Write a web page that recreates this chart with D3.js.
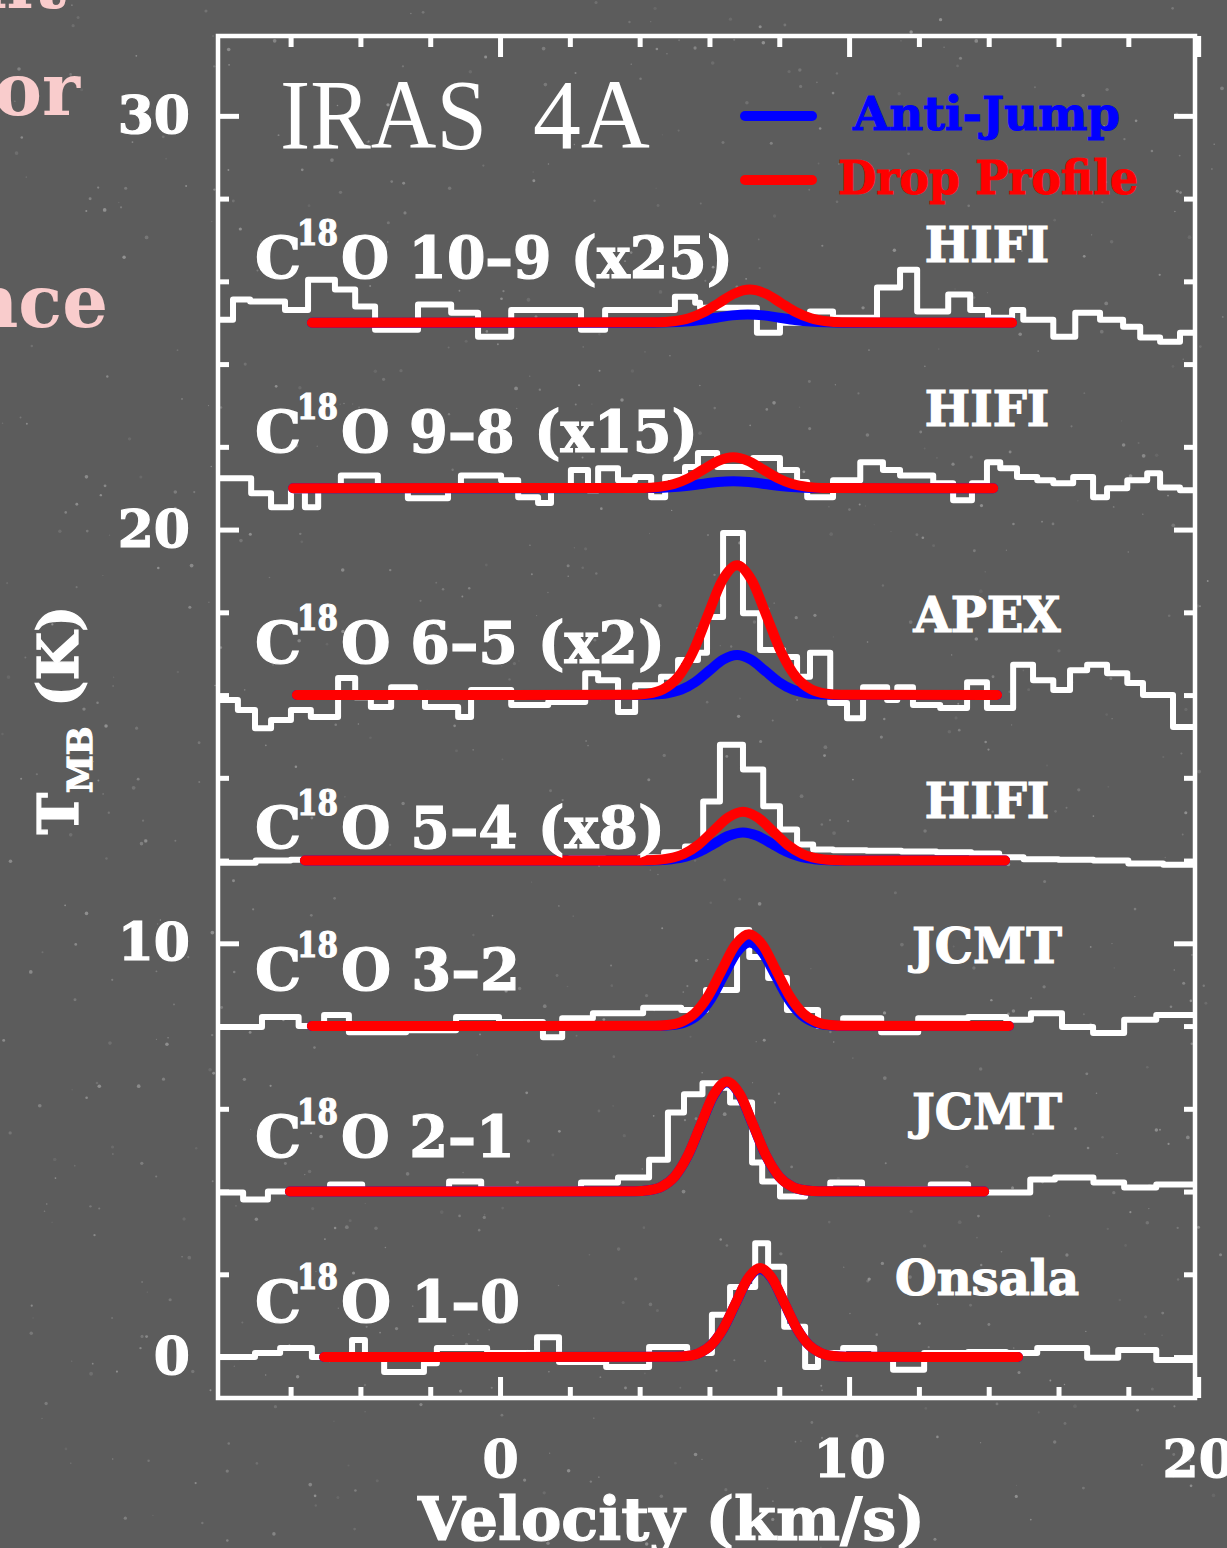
<!DOCTYPE html>
<html><head><meta charset="utf-8">
<script src="https://cdn.jsdelivr.net/npm/d3@7"></script>
<style>
html,body{margin:0;padding:0;background:#5c5c5c;}
svg{display:block;}
</style>
</head><body>
<svg id="chart" width="1227" height="1548"></svg>
<script>
// ---------------- DATA ----------------
const velocityDomain = [-8.08, 19.91];
const tempDomain = [-0.99, 31.93];
const xMajorTicks = [0, 10, 20];
const xMinorTicks = [-6, -4, -2, 2, 4, 6, 8, 12, 14, 16, 18];
const yMajorTicks = [0, 10, 20, 30];
const yMinorTicks = [2, 4, 6, 8, 12, 14, 16, 18, 22, 24, 26, 28];

const transitions = ["10–9", "9–8", "6–5", "5–4", "3–2", "2–1", "1–0"];
const scaleFactors = ["(x25)", "(x15)", "(x2)", "(x8)", "", "", ""];
const telescopes = ["HIFI", "HIFI", "APEX", "HIFI", "JCMT", "JCMT", "Onsala"];
const offsets = [25, 21, 16, 12, 8, 4, 0];
const legendNames = ["Anti-Jump", "Drop Profile"];

// observed spectra: [channel start velocity (km/s), T_MB above offset (K)]
const obs10_9 = [[-8.08,0.07],[-7.65,0.56],[-7.16,0.51],[-6.16,0.31],[-5.50,1.04],[-4.73,0.80],[-4.15,0.39],[-3.58,-0.17],[-2.35,0.44],[-1.40,0.24],[-0.63,-0.34],[0.32,0.31],[2.32,-0.17],[3.01,0.31],[5.01,0.63],[5.59,0.48],[5.73,0.36],[7.36,-0.24],[8.02,0],[8.88,0.27],[9.54,0.12],[10.80,0.85],[11.46,1.28],[11.95,0.27],[12.84,0.68],[13.47,0.31],[13.98,0.12],[14.67,0.31],[14.99,0.07],[15.85,-0.34],[16.48,0.24],[17.19,0.07],[17.85,-0.10],[18.34,-0.36],[18.91,-0.46],[19.48,-0.24]];
const obs9_8 = [[-8.08,0.24],[-7.13,-0.12],[-6.56,-0.46],[-5.99,-0.05],[-5.59,-0.46],[-5.21,0],[-4.56,0.31],[-3.50,0],[-2.64,-0.24],[-1.49,0],[-1.12,0.31],[0.03,0.19],[0.52,-0.22],[1.09,-0.36],[1.46,0],[2.03,0.44],[2.52,-0.05],[2.81,0.48],[3.38,0.19],[3.87,0.27],[4.33,-0.22],[4.73,0.27],[5.30,0.51],[5.67,0.85],[6.22,0.51],[7.25,0.73],[8.02,0.44],[8.51,0.15],[8.80,-0.22],[9.54,0.19],[10.32,0.63],[10.97,0.44],[11.46,0.31],[12.41,0.12],[12.98,-0.29],[13.52,0.12],[13.95,0.63],[14.33,0.48],[14.81,0.27],[15.39,0.19],[15.85,0.12],[16.42,0.27],[16.99,-0.22],[17.39,0],[17.97,0.19],[18.54,0.36],[18.91,0.02],[19.48,-0.05]];
const obs6_5 = [[-8.08,-0.12],[-7.51,-0.36],[-7.02,-0.80],[-6.56,-0.60],[-5.99,-0.36],[-5.42,-0.53],[-4.64,0.41],[-4.15,-0.05],[-3.70,-0.29],[-3.12,0.19],[-2.44,0.05],[-2.15,-0.29],[-1.20,-0.53],[-0.83,0.12],[0.32,-0.24],[1.38,-0.17],[2.44,0.53],[2.81,0.36],[3.38,-0.41],[3.87,0.24],[4.61,0.44],[5.10,0.85],[5.67,1.02],[5.93,1.89],[6.39,3.92],[6.96,1.98],[7.45,1.09],[8.11,0.92],[8.51,0.44],[8.88,1.02],[9.46,-0.19],[9.94,-0.56],[10.40,0.19],[11.09,-0.12],[11.38,0.19],[11.83,-0.24],[12.61,-0.31],[13.38,0.31],[13.95,-0.31],[14.70,0.73],[15.27,0.36],[15.85,0.12],[16.33,0.60],[16.82,0.73],[17.39,0.53],[17.97,0.29],[18.42,0],[19.28,-0.77]];
const obs5_4 = [[-8.08,-0.05],[-7.0,0.0],[-6.0,0.02],[-5.0,0.0],[-4.0,0.03],[-3.0,0.01],[-2.0,0.02],[-1.0,0.04],[0.0,0.02],[1.0,0.03],[2.0,0.05],[3.0,0.04],[4.0,0.08],[4.7,0.2],[5.30,0.34],[5.82,1.43],[6.30,2.80],[6.96,2.20],[7.54,1.31],[8.02,0.75],[8.51,0.39],[8.97,0.27],[9.54,0.25],[10.5,0.24],[11.5,0.22],[12.5,0.2],[13.5,0.17],[14.3,0.08],[15.0,0.03],[16.0,0.02],[17.0,0.0],[18.0,-0.07],[19.0,-0.1]];
const obs3_2 = [[-8.08,-0.02],[-6.82,0.22],[-5.77,0],[-5.04,0.27],[-4.33,-0.15],[-2.69,-0.10],[-1.26,0.22],[-0.03,0.10],[1.23,-0.27],[1.78,0.19],[2.66,0.31],[4.10,0.44],[5.19,0.39],[5.90,0.87],[6.79,2.32],[7.14,1.67],[7.68,1.16],[8.22,0.39],[9.11,0],[9.83,0.19],[10.92,-0.15],[11.98,0.19],[13.41,0.22],[14.50,0.15],[15.21,0.31],[16.10,-0.02],[16.99,-0.17],[17.88,0.15],[18.80,0.27]];
const obs2_1 = [[-8.08,-0.02],[-7.36,-0.19],[-6.65,0],[-4.87,0.17],[-3.95,0],[-1.46,0.24],[-0.54,0.05],[2.32,0.22],[3.38,0.34],[4.27,0.77],[4.81,1.91],[5.27,2.35],[5.80,2.62],[6.25,2.51],[6.59,2.15],[7.22,0.70],[7.51,0.24],[8.02,-0.12],[8.74,0],[9.46,0.22],[10.37,0.05],[12.34,0.17],[13.41,-0.02],[15.19,0.29],[15.90,0.34],[17.0,0.22],[17.88,0.10],[18.8,0.17]];
const obs1_0 = [[-8.08,0],[-7.02,0.10],[-6.30,0.22],[-5.39,0],[-4.24,0.41],[-3.87,0.05],[-3.32,-0.36],[-2.18,-0.15],[-1.81,0.22],[-0.37,0.10],[1.06,0.48],[1.69,-0.12],[3.04,-0.24],[4.27,0.24],[5.36,0.10],[6.07,1.02],[6.59,1.69],[7.31,2.75],[7.68,2.18],[8.14,0.73],[8.74,-0.24],[9.11,0.1],[9.83,0.22],[10.72,0],[11.26,-0.31],[12.15,0.10],[13.41,0.12],[14.50,0.1],[15.39,0.22],[16.82,-0.02],[17.71,0.17],[18.80,-0.07]];

// model profiles: [velocity, T_MB above offset]
const anti10_9 = [[-5.39,0],[4.40,0.002],[4.85,0.009],[5.30,0.027],[5.75,0.065],[6.20,0.121],[6.65,0.177],[7.10,0.20],[7.55,0.177],[8.00,0.121],[8.45,0.065],[8.90,0.027],[9.35,0.009],[9.80,0.002],[14.67,0]];
const drop10_9 = [[-5.39,0],[4.535,0.009],[4.97,0.035],[5.41,0.108],[5.85,0.26],[6.285,0.485],[6.72,0.706],[7.16,0.80],[7.60,0.706],[8.035,0.485],[8.47,0.26],[8.91,0.108],[9.35,0.035],[9.785,0.009],[14.67,0]];
const anti9_8 = [[-5.93,0],[3.98,0.002],[4.43,0.007],[4.88,0.023],[5.33,0.055],[5.78,0.103],[6.23,0.150],[6.68,0.17],[7.13,0.150],[7.58,0.103],[8.03,0.055],[8.48,0.023],[8.93,0.007],[9.38,0.002],[14.13,0]];
const drop9_8 = [[-5.93,0],[4.13,0.008],[4.555,0.033],[4.98,0.101],[5.405,0.244],[5.83,0.455],[6.255,0.662],[6.68,0.75],[7.105,0.662],[7.53,0.455],[7.955,0.244],[8.38,0.101],[8.805,0.033],[9.23,0.008],[14.13,0]];
const anti6_5 = [[-5.82,0],[3.99,0.002],[4.39,0.011],[4.79,0.043],[5.19,0.131],[5.59,0.315],[5.99,0.588],[6.39,0.856],[6.79,0.97],[7.19,0.856],[7.59,0.588],[7.99,0.315],[8.39,0.131],[8.79,0.043],[9.19,0.011],[9.59,0.002],[14.24,0]];
const drop6_5 = [[-5.82,0],[3.815,0.007],[4.24,0.035],[4.665,0.138],[5.09,0.425],[5.515,1.020],[5.94,1.904],[6.365,2.771],[6.79,3.14],[7.215,2.771],[7.64,1.904],[8.065,1.020],[8.49,0.425],[8.915,0.138],[9.34,0.035],[9.765,0.007],[14.24,0]];
const anti5_4 = [[-5.59,0],[4.09,0.001],[4.50,0.008],[4.91,0.030],[5.32,0.092],[5.73,0.221],[6.14,0.412],[6.55,0.600],[6.96,0.68],[7.37,0.600],[7.78,0.412],[8.19,0.221],[8.60,0.092],[9.01,0.030],[9.42,0.008],[9.83,0.001],[14.47,0]];
const drop5_4 = [[-5.59,0],[3.985,0.003],[4.41,0.013],[4.835,0.052],[5.26,0.160],[5.685,0.383],[6.11,0.716],[6.535,1.041],[6.96,1.18],[7.385,1.041],[7.81,0.716],[8.235,0.383],[8.66,0.160],[9.085,0.052],[9.51,0.013],[9.935,0.003],[14.47,0]];
const anti3_2 = [[-5.39,0],[4.56,0.004],[4.93,0.022],[5.30,0.089],[5.67,0.273],[6.04,0.656],[6.41,1.225],[6.78,1.783],[7.15,2.02],[7.52,1.783],[7.89,1.225],[8.26,0.656],[8.63,0.273],[9.00,0.089],[9.37,0.022],[9.74,0.004],[14.58,0]];
const drop3_2 = [[-5.39,0],[4.40,0.005],[4.79,0.025],[5.18,0.097],[5.57,0.300],[5.96,0.721],[6.35,1.346],[6.74,1.959],[7.13,2.22],[7.52,1.959],[7.91,1.346],[8.30,0.721],[8.69,0.300],[9.08,0.097],[9.47,0.025],[9.86,0.005],[14.58,0]];
const anti2_1 = [[-6.02,0],[3.875,0.006],[4.25,0.030],[4.625,0.116],[5.00,0.357],[5.375,0.857],[5.75,1.601],[6.125,2.330],[6.50,2.64],[6.875,2.330],[7.25,1.601],[7.625,0.857],[8.00,0.357],[8.375,0.116],[8.75,0.030],[9.125,0.006],[13.87,0]];
const drop2_1 = [[-6.02,0],[3.875,0.006],[4.25,0.030],[4.625,0.117],[5.00,0.360],[5.375,0.864],[5.75,1.613],[6.125,2.347],[6.50,2.66],[6.875,2.347],[7.25,1.613],[7.625,0.864],[8.00,0.360],[8.375,0.117],[8.75,0.030],[9.125,0.006],[13.87,0]];
const anti1_0 = [[-5.04,0],[5.00,0.005],[5.35,0.024],[5.70,0.093],[6.05,0.289],[6.40,0.693],[6.75,1.294],[7.10,1.883],[7.45,2.13],[7.80,1.883],[8.15,1.294],[8.50,0.693],[8.85,0.289],[9.20,0.093],[9.55,0.024],[9.90,0.005],[14.84,0]];
const drop1_0 = [[-5.04,0],[5.00,0.005],[5.35,0.024],[5.70,0.094],[6.05,0.291],[6.40,0.698],[6.75,1.304],[7.10,1.897],[7.45,2.15],[7.80,1.897],[8.15,1.304],[8.50,0.698],[8.85,0.291],[9.20,0.094],[9.55,0.024],[9.90,0.005],[14.84,0]];

const observed = [obs10_9, obs9_8, obs6_5, obs5_4, obs3_2, obs2_1, obs1_0];
const antiJump = [anti10_9, anti9_8, anti6_5, anti5_4, anti3_2, anti2_1, anti1_0];
const dropProfile = [drop10_9, drop9_8, drop6_5, drop5_4, drop3_2, drop2_1, drop1_0];

// ---------------- LAYOUT / STYLE ----------------
const W = 1227, H = 1548;
const plot = {left: 218, right: 1195, top: 36, bottom: 1398};
const labelFont = "'DejaVu Serif', serif";
const white = "#ffffff";
const blue = "#0000ff";
const red = "#ff0000";
const bg = "#5c5c5c";
const labelBaselineShift = [1.08, 0.88, 0.78, 0.30, 0.87, 0.83, 0.85]; // K above offset
const labelRestWidth = [393, 358, 325, 325, 180, 175, 180];
const scopeBaselinePx = [262, 426, 632, 818, 963, 1129, 1295];

const svg = d3.select("#chart");
svg.append("rect").attr("width", W).attr("height", H).attr("fill", bg);

// subtle star speckles (deterministic decoration)
(function(){
  let s = 12345;
  const rnd = () => { s = (s * 1103515245 + 12345) % 2147483648; return s / 2147483648; };
  const g = svg.append("g");
  for (let i = 0; i < 900; i++) {
    const px = rnd() * W, py = rnd() * H, r = 0.6 + rnd() * 1.3, o = 0.08 + rnd() * 0.3;
    g.append("circle").attr("cx", px).attr("cy", py).attr("r", r).attr("fill", "#e8e8e8").attr("opacity", o);
  }
})();

// pink slide text fragments at left (background slide)
const pink = "#f9cccc";
svg.append("text").attr("x", 80).attr("y", 115).attr("text-anchor", "end")
  .attr("font-family", labelFont).attr("font-weight", "bold").attr("font-size", 72).attr("fill", pink).text("Factor");
svg.append("text").attr("x", 108).attr("y", 327).attr("text-anchor", "end")
  .attr("font-family", labelFont).attr("font-weight", "bold").attr("font-size", 72).attr("fill", pink).text("Abundance");
svg.append("text").attr("x", 66).attr("y", 8).attr("text-anchor", "end")
  .attr("font-family", labelFont).attr("font-weight", "bold").attr("font-size", 72).attr("fill", pink).text("ent");

const x = d3.scaleLinear().domain(velocityDomain).range([plot.left, plot.right]);
const y = d3.scaleLinear().domain(tempDomain).range([plot.bottom, plot.top]);

svg.append("defs").append("clipPath").attr("id", "clip")
  .append("rect").attr("x", plot.left).attr("y", plot.top)
  .attr("width", plot.right - plot.left).attr("height", plot.bottom - plot.top);

function styleAxis(g) {
  g.select(".domain").remove();
  g.selectAll(".tick line").attr("stroke", white).attr("stroke-width", 5);
  g.selectAll(".tick text").attr("fill", white).attr("font-family", labelFont)
    .attr("font-weight", "bold").attr("font-size", 52)
    .attr("stroke", white).attr("stroke-width", 1.2);
}
const noLabel = () => "";
svg.append("g").attr("transform", `translate(0,${plot.bottom})`)
  .call(d3.axisBottom(x).tickValues(xMinorTicks).tickSize(-11).tickFormat(noLabel)).call(styleAxis);
svg.append("g").attr("transform", `translate(0,${plot.bottom})`)
  .call(d3.axisBottom(x).tickValues(xMajorTicks).tickSize(-21).tickPadding(42).tickFormat(d3.format("d"))).call(styleAxis);
svg.append("g").attr("transform", `translate(0,${plot.top})`)
  .call(d3.axisTop(x).tickValues(xMinorTicks).tickSize(-11).tickFormat(noLabel)).call(styleAxis);
svg.append("g").attr("transform", `translate(0,${plot.top})`)
  .call(d3.axisTop(x).tickValues(xMajorTicks).tickSize(-21).tickFormat(noLabel)).call(styleAxis);
svg.append("g").attr("transform", `translate(${plot.left},0)`)
  .call(d3.axisLeft(y).tickValues(yMinorTicks).tickSize(-11).tickFormat(noLabel)).call(styleAxis);
svg.append("g").attr("transform", `translate(${plot.left},0)`)
  .call(d3.axisLeft(y).tickValues(yMajorTicks).tickSize(-21).tickPadding(28).tickFormat(d3.format("d"))).call(styleAxis);
svg.append("g").attr("transform", `translate(${plot.right},0)`)
  .call(d3.axisRight(y).tickValues(yMinorTicks).tickSize(-11).tickFormat(noLabel)).call(styleAxis);
svg.append("g").attr("transform", `translate(${plot.right},0)`)
  .call(d3.axisRight(y).tickValues(yMajorTicks).tickSize(-21).tickFormat(noLabel)).call(styleAxis);

svg.append("rect").attr("x", plot.left).attr("y", plot.top)
  .attr("width", plot.right - plot.left).attr("height", plot.bottom - plot.top)
  .attr("fill", "none").attr("stroke", white).attr("stroke-width", 4.5);

const plotG = svg.append("g").attr("clip-path", "url(#clip)");

observed.forEach((spec, i) => {
  const off = offsets[i];
  const pts = spec.concat([[velocityDomain[1] + 0.5, spec[spec.length - 1][1]]]);
  const line = d3.line().x(d => x(d[0])).y(d => y(d[1] + off)).curve(d3.curveStepAfter);
  plotG.append("path").attr("d", line(pts)).attr("fill", "none")
    .attr("stroke", white).attr("stroke-width", 6).attr("stroke-linejoin", "round").attr("stroke-linecap", "round");
});

function drawModel(arr, color) {
  arr.forEach((m, i) => {
    const off = offsets[i];
    const line = d3.line().x(d => x(d[0])).y(d => y(d[1] + off)).curve(d3.curveMonotoneX);
    plotG.append("path").attr("d", line(m)).attr("fill", "none")
      .attr("stroke", color).attr("stroke-width", 10).attr("stroke-linejoin", "round").attr("stroke-linecap", "round");
  });
}
drawModel(antiJump, blue);
drawModel(dropProfile, red);

// spectrum labels
const labelX = x(-7.02);
transitions.forEach((t, i) => {
  const by = y(offsets[i] + labelBaselineShift[i]);
  const common = s => s.attr("font-family", labelFont).attr("font-weight", "bold").attr("fill", white)
    .attr("stroke", white).attr("stroke-width", 1.2);
  svg.append("text").attr("x", labelX).attr("y", by).attr("font-size", 58).call(common).text("C");
  svg.append("text").attr("x", labelX + 42).attr("y", by - 33).attr("font-size", 36).call(common)
    .attr("textLength", 41).attr("lengthAdjust", "spacingAndGlyphs").text("18");
  svg.append("text").attr("x", labelX + 86).attr("y", by).attr("font-size", 58).call(common)
    .attr("textLength", labelRestWidth[i] - 1).attr("lengthAdjust", "spacingAndGlyphs")
    .text("O " + t + (scaleFactors[i] ? " " + scaleFactors[i] : ""));
  svg.append("text").attr("x", 987).attr("y", scopeBaselinePx[i]).attr("text-anchor", "middle")
    .attr("font-size", 48).call(common).text(telescopes[i]);
});

// Title
svg.append("text").attr("x", 280).attr("y", 148).attr("font-family", "'Liberation Serif', serif")
  .attr("font-size", 100).attr("fill", white).attr("textLength", 207).attr("lengthAdjust", "spacingAndGlyphs").text("IRAS");
svg.append("text").attr("x", 533).attr("y", 148).attr("font-family", "'Liberation Serif', serif")
  .attr("font-size", 100).attr("fill", white).attr("textLength", 117).attr("lengthAdjust", "spacingAndGlyphs").text("4A");

// Legend
const legendColors = [blue, red];
const legendY = [116, 180];
const legendTextX = [853, 838];
const legendTextW = [267, 300];
legendNames.forEach((n, i) => {
  svg.append("line").attr("x1", 745).attr("x2", 812).attr("y1", legendY[i]).attr("y2", legendY[i])
    .attr("stroke", legendColors[i]).attr("stroke-width", 10).attr("stroke-linecap", "round");
  svg.append("text").attr("x", legendTextX[i]).attr("y", legendY[i] + 14)
    .attr("font-family", labelFont).attr("font-weight", "bold").attr("font-size", 46)
    .attr("fill", legendColors[i]).attr("stroke", legendColors[i]).attr("stroke-width", 1)
    .attr("textLength", legendTextW[i]).attr("lengthAdjust", "spacingAndGlyphs").text(n);
});

// Axis titles
svg.append("text").attr("x", 418).attr("y", 1540)
  .attr("font-family", labelFont).attr("font-weight", "bold").attr("font-size", 60)
  .attr("fill", white).attr("stroke", white).attr("stroke-width", 1.2)
  .attr("textLength", 507).attr("lengthAdjust", "spacingAndGlyphs").text("Velocity (km/s)");
const yt = svg.append("text").attr("transform", "translate(78,720) rotate(-90)").attr("text-anchor", "middle")
  .attr("font-family", labelFont).attr("font-weight", "bold").attr("font-size", 56).attr("fill", white)
  .attr("stroke", white).attr("stroke-width", 1.2);
yt.append("tspan").text("T");
yt.append("tspan").attr("font-size", 34).attr("dy", 14).text("MB");
yt.append("tspan").attr("dy", -14).text(" (K)");
</script>
</body></html>
